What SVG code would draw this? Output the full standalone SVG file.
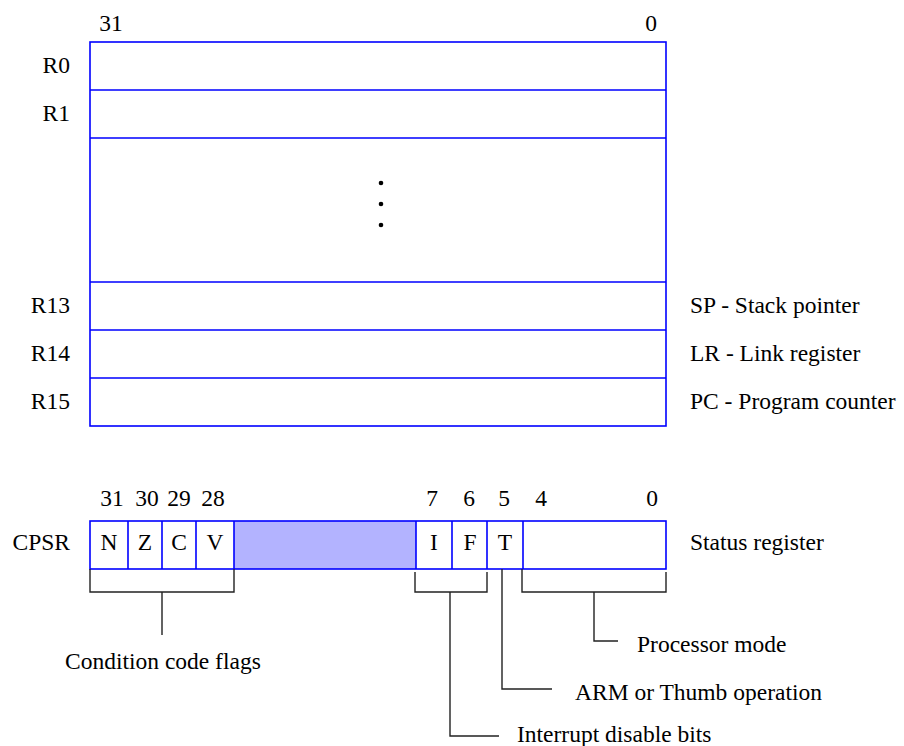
<svg xmlns="http://www.w3.org/2000/svg" width="904" height="746" viewBox="0 0 904 746">
<style>
.t text{font-size:23.5px;fill:#000}
.r{text-anchor:end}
.m{text-anchor:middle}
.box{fill:#fff;stroke:#0000ff;stroke-width:1.6}
.bl{stroke:#0000ff;stroke-width:1.6;fill:none}
.k{stroke:#222;stroke-width:1.4;fill:none}
</style>
<rect width="904" height="746" fill="#fff"/>
<g class="t" font-family="Liberation Serif, Tinos, Times New Roman, DejaVu Serif, serif">
<g id="registers">
<rect class="box" x="90" y="42" width="576" height="384"/>
<path class="bl" d="M90 90H666M90 138H666M90 282H666M90 330H666M90 378H666"/>
<circle cx="381" cy="183" r="2.3"/>
<circle cx="381" cy="204" r="2.3"/>
<circle cx="381" cy="225" r="2.3"/>
<text class="m" x="111" y="31">31</text>
<text class="m" x="651" y="31">0</text>
<text class="r" x="70" y="73">R0</text>
<text class="r" x="70" y="121">R1</text>
<text class="r" x="70" y="313">R13</text>
<text class="r" x="70" y="361">R14</text>
<text class="r" x="70" y="409">R15</text>
<text x="690" y="313">SP - Stack pointer</text>
<text x="690" y="361">LR - Link register</text>
<text x="690" y="409">PC - Program counter</text>
</g>
<g id="cpsr">
<rect x="234" y="521" width="182" height="48" fill="#b3b3ff"/>
<rect class="bl" x="90" y="521" width="576" height="48"/>
<path class="bl" d="M128 521V569M162 521V569M196 521V569M234 521V569M416 521V569M452 521V569M487 521V569M523 521V569"/>
<text class="r" x="70" y="550">CPSR</text>
<text class="m" x="109" y="550">N</text>
<text class="m" x="145" y="550">Z</text>
<text class="m" x="179" y="550">C</text>
<text class="m" x="215" y="550">V</text>
<text class="m" x="434" y="550">I</text>
<text class="m" x="470" y="550">F</text>
<text class="m" x="505" y="550">T</text>
<text class="m" x="112" y="506">31</text>
<text class="m" x="147" y="506">30</text>
<text class="m" x="179" y="506">29</text>
<text class="m" x="213" y="506">28</text>
<text class="m" x="432" y="506">7</text>
<text class="m" x="469" y="506">6</text>
<text class="m" x="504" y="506">5</text>
<text class="m" x="541" y="506">4</text>
<text class="m" x="652" y="506">0</text>
<text x="690" y="550">Status register</text>
</g>
<g id="connectors">
<path class="k" d="M90 569V592H234V569M162 592V635"/>
<path class="k" d="M415 572V592H487V572M450 592V736H499"/>
<path class="k" d="M502 569V689H552"/>
<path class="k" d="M522 569V592H666V572M594 592V641H618"/>
</g>
<g id="labels">
<text x="65" y="669">Condition code flags</text>
<text x="637" y="652">Processor mode</text>
<text x="575" y="700">ARM or Thumb operation</text>
<text x="517" y="742">Interrupt disable bits</text>
</g>
</g>
</svg>
